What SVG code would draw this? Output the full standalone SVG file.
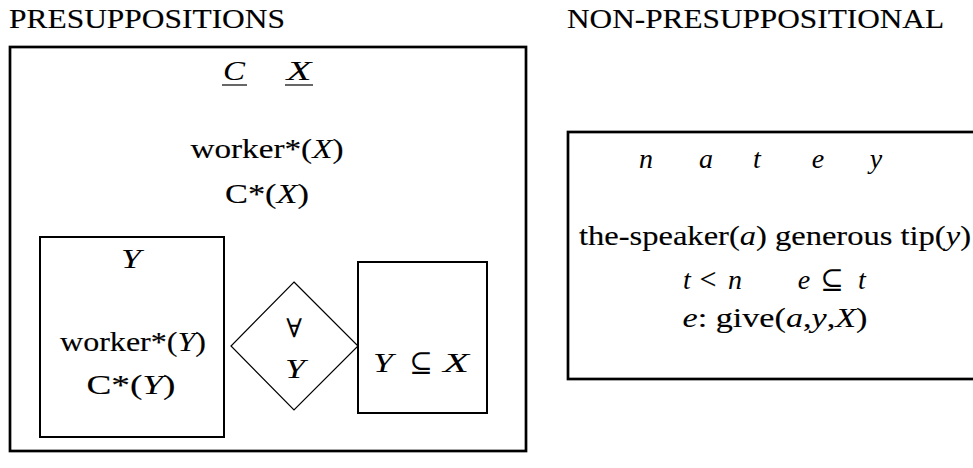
<svg xmlns="http://www.w3.org/2000/svg" width="973" height="468" viewBox="0 0 973 468">
<style>
text { font-family: "Liberation Serif", "Times New Roman", serif; font-size: 28px; fill: #000; stroke: #000; stroke-width: 0.15; }
.m { font-style: italic; stroke-width: 0; }
.c { text-anchor: middle; }
.sym { font-family: "DejaVu Serif", serif; font-size: 26px; stroke-width: 0; }
.thick { fill: none; stroke: #000; stroke-width: 2.7; }
.box { fill: none; stroke: #000; stroke-width: 2; }
.thin { fill: none; stroke: #000; stroke-width: 1.2; }
.ul { stroke: #000; stroke-width: 1.2; }
</style>
<rect width="973" height="468" fill="#fff"/>
<g id="title-presup">
<text x="9" y="28" textLength="276" lengthAdjust="spacingAndGlyphs">PRESUPPOSITIONS</text>
</g>
<g id="title-nonpresup">
<text x="567" y="28" textLength="377" lengthAdjust="spacingAndGlyphs">NON-PRESUPPOSITIONAL</text>
</g>
<g id="presup-box">
<rect class="thick" x="10" y="47" width="516" height="404"/>
<text class="m c" x="234" y="80" textLength="22" lengthAdjust="spacingAndGlyphs">C</text>
<text class="m c" x="299" y="80" textLength="25" lengthAdjust="spacingAndGlyphs">X</text>
<line class="ul" x1="222" y1="85" x2="247" y2="85"/>
<line class="ul" x1="285" y1="85" x2="313" y2="85"/>
<text class="c" x="267" y="158" textLength="153" lengthAdjust="spacingAndGlyphs">worker*(<tspan class="m">X</tspan>)</text>
<text class="c" x="267" y="203" textLength="84" lengthAdjust="spacingAndGlyphs">C*(<tspan class="m">X</tspan>)</text>
</g>
<g id="y-box">
<rect class="box" x="40" y="237" width="184" height="200"/>
<text class="m c" x="131" y="268" textLength="20" lengthAdjust="spacingAndGlyphs">Y</text>
<text class="c" x="133" y="351" textLength="146" lengthAdjust="spacingAndGlyphs">worker*(<tspan class="m">Y</tspan>)</text>
<text class="c" x="131" y="394" textLength="89" lengthAdjust="spacingAndGlyphs">C*(<tspan class="m">Y</tspan>)</text>
</g>
<g id="forall-diamond">
<polygon class="thin" points="294,282 358,346 294,410 231,346"/>
<text class="c sym" x="294" y="337">∀</text>
<text class="m c" x="295" y="378" textLength="20" lengthAdjust="spacingAndGlyphs">Y</text>
</g>
<g id="subset-box">
<rect class="box" x="358" y="262" width="129" height="151"/>
<text class="m c" x="383" y="372" textLength="20" lengthAdjust="spacingAndGlyphs">Y</text>
<text class="c sym" x="421" y="372" style="font-size:28px">⊆</text>
<text class="m c" x="456" y="372" textLength="26" lengthAdjust="spacingAndGlyphs">X</text>
</g>
<g id="nonpresup-box">
<rect class="thick" x="568" y="132" width="420" height="247"/>
<text class="m c" x="646" y="168">n</text>
<text class="m c" x="706" y="168">a</text>
<text class="m c" x="757" y="168">t</text>
<text class="m c" x="818" y="168">e</text>
<text class="m c" x="876" y="168">y</text>
<text class="c" x="775" y="245" textLength="392" lengthAdjust="spacingAndGlyphs">the-speaker(<tspan class="m">a</tspan>) generous tip(<tspan class="m">y</tspan>)</text>
<text class="m c" x="687" y="289">t</text>
<text class="c" x="708" y="289" style="font-size:30px">&lt;</text>
<text class="m c" x="735" y="289">n</text>
<text class="m c" x="804" y="289">e</text>
<text class="c sym" x="832" y="289" style="font-size:28px">⊆</text>
<text class="m c" x="862" y="289">t</text>
<text class="c" x="775" y="327" textLength="185" lengthAdjust="spacingAndGlyphs"><tspan class="m">e</tspan>: give(<tspan class="m">a</tspan>,<tspan class="m">y</tspan>,<tspan class="m">X</tspan>)</text>
</g>
</svg>
